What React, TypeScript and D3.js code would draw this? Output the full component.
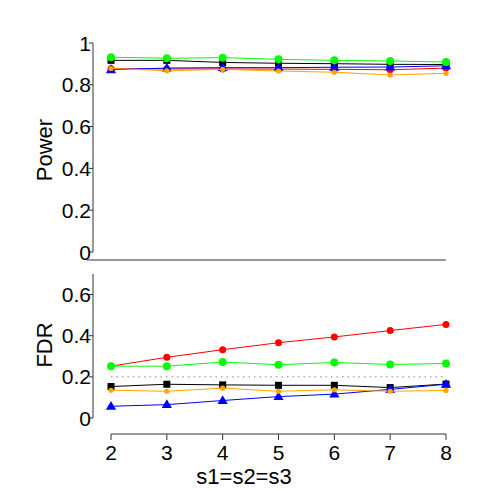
import React from "react";
import * as d3 from "d3";

// s1 = s2 = s3 settings on the x axis
const sizes = [2, 3, 4, 5, 6, 7, 8];

// Power (top panel)
const powerBlack = [0.917, 0.917, 0.907, 0.903, 0.901, 0.898, 0.897];
const powerRed = [0.877, 0.876, 0.876, 0.875, 0.874, 0.872, 0.88];
const powerBlue = [0.872, 0.88, 0.882, 0.882, 0.884, 0.885, 0.891];
const powerOrange = [0.878, 0.867, 0.874, 0.866, 0.86, 0.847, 0.855];
const powerGreen = [0.932, 0.927, 0.93, 0.922, 0.917, 0.914, 0.909];

// FDR (bottom panel)
const fdrBlack = [0.153, 0.164, 0.161, 0.159, 0.159, 0.148, 0.165];
const fdrRed = [0.252, 0.295, 0.332, 0.366, 0.394, 0.425, 0.455];
const fdrBlue = [0.057, 0.065, 0.085, 0.104, 0.116, 0.139, 0.164];
const fdrOrange = [0.135, 0.13, 0.145, 0.13, 0.137, 0.13, 0.134];
const fdrGreen = [0.252, 0.252, 0.272, 0.259, 0.27, 0.26, 0.265];

const powerTicks = [0, 0.2, 0.4, 0.6, 0.8, 1];
const fdrTicks = [0, 0.2, 0.4, 0.6];
const fdrTarget = 0.2;

type Series = { color: string; shape: string; values: number[] };

const powerSeries: Series[] = [
  { color: "#000000", shape: "square", values: powerBlack },
  { color: "#ff0000", shape: "dot", values: powerRed },
  { color: "#0000ff", shape: "triangle", values: powerBlue },
  { color: "#ffa500", shape: "small", values: powerOrange },
  { color: "#00ff00", shape: "circle", values: powerGreen },
];
const fdrSeries: Series[] = [
  { color: "#000000", shape: "square", values: fdrBlack },
  { color: "#ff0000", shape: "dot", values: fdrRed },
  { color: "#0000ff", shape: "triangle", values: fdrBlue },
  { color: "#ffa500", shape: "small", values: fdrOrange },
  { color: "#00ff00", shape: "circle", values: fdrGreen },
];

const font = "'Liberation Sans', Arial, Helvetica, sans-serif";
const axisX = 93;
const fs = 21;
const titleFs = 22;

const x = d3.scaleLinear().domain([2, 8]).range([111, 446]);
const yPower = d3.scaleLinear().domain([0, 1]).range([252, 43]);
const yFdr = d3.scaleLinear().domain([0, 0.7]).range([418, 274]);

function marker(shape: string, cx: number, cy: number, color: string, key: string) {
  if (shape === "square") return <rect key={key} x={cx - 3.5} y={cy - 3.5} width={7} height={7} fill={color} />;
  if (shape === "triangle") {
    const s = d3.symbol(d3.symbolTriangle, 45)();
    return <path key={key} d={s!} transform={`translate(${cx},${cy + 0.5})`} fill={color} />;
  }
  const r = shape === "circle" ? 4 : shape === "dot" ? 3.5 : 2.6;
  return <circle key={key} cx={cx} cy={cy} r={r} fill={color} />;
}

function Panel({ series, y, ticks }: { series: Series[]; y: d3.ScaleLinear<number, number>; ticks: number[] }) {
  const line = d3.line<number>().x((_, i) => x(sizes[i])).y((d) => y(d));
  const [lo, hi] = y.domain();
  return (
    <g>
      <line x1={axisX} x2={axisX} y1={y(lo)} y2={y(hi)} stroke="#333" />
      {ticks.map((t) => (
        <g key={t}>
          <line x1={axisX - 4} x2={axisX} y1={y(t)} y2={y(t)} stroke="#333" />
          <text x={axisX - 2} y={y(t) + 7.5} textAnchor="end" fontSize={fs} fontFamily={font}>
            {d3.format("~g")(t)}
          </text>
        </g>
      ))}
      {series.map((s, si) => (
        <g key={si}>
          <path d={line(s.values)!} fill="none" stroke={s.color} strokeWidth={1} />
          {s.values.map((v, i) => marker(s.shape, x(sizes[i]), y(v), s.color, `${si}-${i}`))}
        </g>
      ))}
    </g>
  );
}

export default function App() {
  return (
    <svg width={490} height={490} style={{ position: "absolute", left: 0, top: 0, display: "block" }}>
      <rect width={490} height={490} fill="#fff" />
      <Panel series={powerSeries} y={yPower} ticks={powerTicks} />
      <line x1={87} x2={446} y1={260} y2={260} stroke="#333" />
      <line
        x1={x(2)}
        x2={x(8)}
        y1={yFdr(fdrTarget)}
        y2={yFdr(fdrTarget)}
        stroke="#888"
        strokeDasharray="1.5,4"
      />
      <Panel series={fdrSeries} y={yFdr} ticks={fdrTicks} />
      <line x1={x(2)} x2={x(8)} y1={434} y2={434} stroke="#333" />
      {sizes.map((s) => (
        <g key={s}>
          <line x1={x(s)} x2={x(s)} y1={434} y2={440} stroke="#333" />
          <text x={x(s)} y={460} textAnchor="middle" fontSize={fs} fontFamily={font}>
            {s}
          </text>
        </g>
      ))}
      <text x={244} y={484} textAnchor="middle" fontSize={titleFs} fontFamily={font}>
        s1=s2=s3
      </text>
      <text transform="translate(52,150) rotate(-90)" textAnchor="middle" fontSize={titleFs} fontFamily={font}>
        Power
      </text>
      <text transform="translate(52,345) rotate(-90)" textAnchor="middle" fontSize={titleFs} fontFamily={font}>
        FDR
      </text>
    </svg>
  );
}
